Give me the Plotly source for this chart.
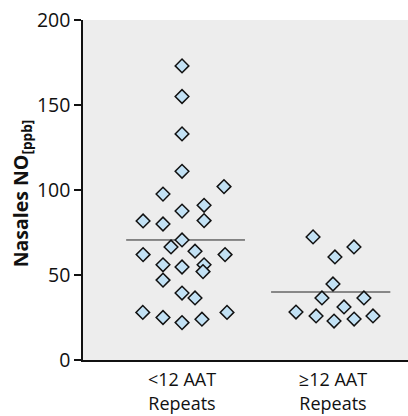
import plotly.graph_objects as go

# ---- data ----
categories = ["<12 AAT<br>Repeats", "\u226512 AAT<br>Repeats"]

group1_values = [173, 155, 133, 111, 97.6, 102, 87.6, 91, 81.8, 80, 82, 70.6,
                 66.5, 64, 62, 62, 56, 54.7, 56, 52, 47, 39.4, 36.5, 28, 25, 22, 24, 28]
group1_jitter = [0, 0, 0, 0, -0.126, 0.278, 0, 0.146, -0.258, -0.126, 0.146, 0,
                 -0.073, 0.086, -0.258, 0.285, -0.126, 0, 0.146, 0.139, -0.126, 0, 0.086,
                 -0.26, -0.126, 0, 0.132, 0.298]

group2_values = [72.4, 66.5, 60.6, 44.7, 36.5, 36.5, 31.2, 28.2, 25.9, 25.9, 24.1, 22.9]
group2_jitter = [-0.132, 0.139, 0.013, 0, -0.073, 0.205, 0.073, -0.245, -0.112, 0.265, 0.14, 0.007]

group_means = [70.6, 40.0]

y_ticks = [0, 50, 100, 150, 200]

# ---- figure ----
fig = go.Figure()

marker_style = dict(symbol="diamond", size=10.5, color="#c2e1f4",
                    line=dict(color="#111111", width=1.5))

for gi, (vals, jit) in enumerate([(group1_values, group1_jitter),
                                   (group2_values, group2_jitter)]):
    fig.add_trace(go.Scatter(
        x=[gi + j for j in jit], y=vals, mode="markers",
        marker=marker_style, showlegend=False, hoverinfo="y"))

mean_halfwidth = [(-0.37, 0.417), (-0.41, 0.38)]
for gi, m in enumerate(group_means):
    lo, hi = mean_halfwidth[gi]
    fig.add_shape(type="line", xref="x", yref="y", x0=gi + lo, x1=gi + hi,
                  y0=m, y1=m, line=dict(color="#222222", width=1), layer="below")

fig.update_layout(
    width=408, height=416,
    margin=dict(l=83, r=0, t=20, b=56),
    paper_bgcolor="white", plot_bgcolor="#ededed",
    font=dict(family="Open Sans", color="#111111"),
    xaxis=dict(range=[-0.656, 1.497], tickvals=[0, 1], ticktext=categories,
               showgrid=False, zeroline=False, showline=True, linecolor="#111111",
               linewidth=1.5, ticks="", tickfont=dict(size=18), ticklabelstandoff=3),
    yaxis=dict(range=[0, 200], tickvals=y_ticks, showgrid=False, zeroline=False,
               showline=True, linecolor="#111111", linewidth=1.5, ticks="outside",
               ticklen=7, tickwidth=1.5, tickcolor="#111111",
               tickfont=dict(size=19.5), ticklabeloverflow="allow"),
    annotations=[dict(text="<b>Nasales NO<sub>[ppb]</sub></b>", textangle=-90,
                      xref="paper", yref="paper", x=-0.191, y=0.49,
                      xanchor="center", yanchor="middle", showarrow=False,
                      font=dict(size=19.5, family="Open Sans", color="#111111"))],
)

fig.write_html("out.html",
               config={"displayModeBar": False},
               post_script="document.body.style.margin='0';"
                           "document.body.style.overflow='hidden';")
